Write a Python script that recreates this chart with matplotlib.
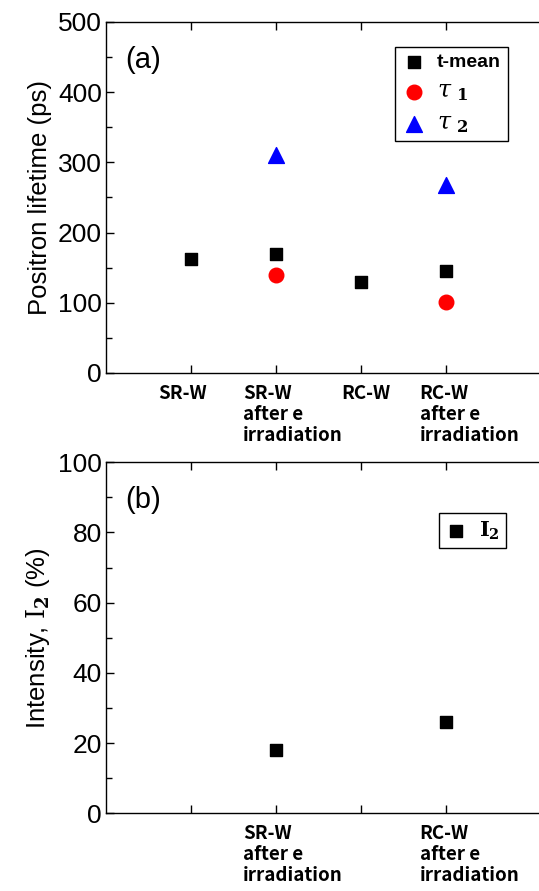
import matplotlib
matplotlib.use("Agg")
import matplotlib.pyplot as plt
from matplotlib.ticker import MultipleLocator, NullFormatter

# sample names (x positions 1..4)
samples = ["SR-W", "SR-W\nafter e\nirradiation", "RC-W", "RC-W\nafter e\nirradiation"]
x_pos = [1, 2, 3, 4]

# panel (a): positron lifetimes (ps)
t_mean = [163, 170, 130, 145]
tau1_x = [2, 4]
tau1 = [139, 101]
tau2_x = [2, 4]
tau2 = [311, 268]

# panel (b): intensity I2 (%)
i2_x = [2, 4]
i2 = [18, 26]

plt.rcParams['font.family'] = ['Liberation Sans', 'DejaVu Sans']
label_font = dict(family=['Noto Sans CJK JP', 'DejaVu Sans'], weight='bold', size=13.5)

fig = plt.figure(figsize=(5.39, 8.91), dpi=100)
ax1 = fig.add_axes([0.1967, 0.5814, 0.8033, 0.394])
ax2 = fig.add_axes([0.1967, 0.0872, 0.8033, 0.394])

for ax in (ax1, ax2):
    ax.set_xlim(0, 5.094)
    ax.spines['right'].set_visible(False)
    for s in ('left', 'bottom', 'top'):
        ax.spines[s].set_linewidth(1.0)
    ax.set_xticks(x_pos)
    ax.xaxis.set_major_formatter(NullFormatter())
    ax.tick_params(axis='x', which='major', direction='in', top=True, bottom=True, length=6, width=1)
    ax.tick_params(axis='y', which='both', direction='in', right=False, labelsize=19, width=1, pad=3)
    ax.tick_params(axis='y', which='major', length=6)
    ax.tick_params(axis='y', which='minor', length=4)

# panel (a)
ax1.set_ylim(0, 500)
ax1.yaxis.set_major_locator(MultipleLocator(100))
ax1.yaxis.set_minor_locator(MultipleLocator(50))
ax1.scatter(x_pos, t_mean, marker='s', s=80, color='black', label='t-mean', zorder=3)
ax1.scatter(tau1_x, tau1, marker='o', s=110, color='red', label=r'$\mathit{\tau}$ $_{\mathbf{1}}$', zorder=3)
ax1.scatter(tau2_x, tau2, marker='^', s=130, color='blue', label=r'$\mathit{\tau}$ $_{\mathbf{2}}$', zorder=3)
ax1.set_ylabel("Positron lifetime (ps)", fontsize=18.5, labelpad=4)
ax1.text(0.045, 0.87, "(a)", transform=ax1.transAxes, fontsize=21)
leg1 = ax1.legend(loc='upper right', bbox_to_anchor=(0.928, 0.929), borderaxespad=0,
                  fancybox=False, edgecolor='black', framealpha=1,
                  prop=dict(weight='bold', size=14), handletextpad=0.6,
                  labelspacing=0.4, borderpad=0.35, handlelength=1.2)
leg1.get_frame().set_linewidth(1.0)
for t in leg1.get_texts()[1:]:
    t.set_fontsize(17)
    t.set_math_fontfamily('dejavuserif')

# panel (b)
ax2.set_ylim(0, 100)
ax2.yaxis.set_major_locator(MultipleLocator(20))
ax2.yaxis.set_minor_locator(MultipleLocator(10))
ax2.scatter(i2_x, i2, marker='s', s=80, color='black', label=r'$\mathbf{I}_{\mathbf{2}}$', zorder=3)
ax2.set_ylabel(r"Intensity, $\mathrm{I}_{\mathbf{2}}$ (%)", fontsize=18.5, labelpad=4)
ax2.yaxis.label.set_math_fontfamily('dejavuserif')
ax2.text(0.045, 0.87, "(b)", transform=ax2.transAxes, fontsize=21)
leg2 = ax2.legend(loc='upper right', bbox_to_anchor=(0.924, 0.855), borderaxespad=0,
                  fancybox=False, edgecolor='black', framealpha=1,
                  prop=dict(weight='bold', size=15), handletextpad=0.6,
                  borderpad=0.3, handlelength=1.0)
leg2.get_frame().set_linewidth(1.0)
for t in leg2.get_texts():
    t.set_math_fontfamily('dejavuserif')

# category labels under the axes (left aligned boxes like the original)
label_x_a = [0.61, 1.61, 2.77, 3.69]
for xp, name in zip(label_x_a, samples):
    ax1.text(xp, -0.03, name, transform=ax1.get_xaxis_transform(), ha='left', va='top',
             linespacing=1.15, **label_font)
for xp, idx in zip([1.61, 3.69], [1, 3]):
    ax2.text(xp, -0.03, samples[idx], transform=ax2.get_xaxis_transform(), ha='left', va='top',
             linespacing=1.15, **label_font)

fig.savefig("out.png", dpi=100)
